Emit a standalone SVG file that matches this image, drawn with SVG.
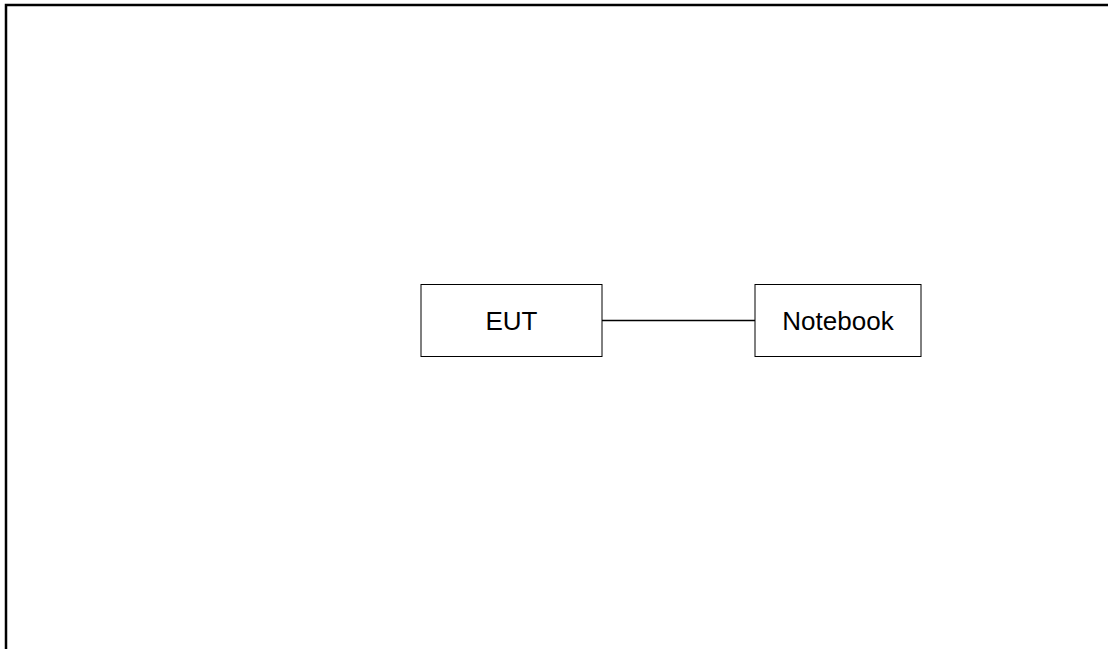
<svg xmlns="http://www.w3.org/2000/svg" width="1108" height="649" viewBox="0 0 1108 649">
<style>
.node rect{fill:#fff;stroke:#000;stroke-width:1}
.node text{font-family:"Liberation Sans",Arial,sans-serif;font-size:26px;fill:#000;text-anchor:middle}
.conn line{stroke:#000;stroke-width:1.5}
</style>
<rect width="1108" height="649" fill="#fff"/>
<g id="frame"><path d="M6,649 V5 H1108" fill="none" stroke="#000" stroke-width="2.5"/></g>
<g id="connectors" class="conn"><line x1="602" y1="320.5" x2="755" y2="320.5"/></g>
<g id="eut" class="node"><rect x="421" y="284.5" width="181" height="72"/><text x="511.5" y="330">EUT</text></g>
<g id="notebook" class="node"><rect x="755" y="284.5" width="166" height="72"/><text x="838" y="330">Notebook</text></g>
</svg>
